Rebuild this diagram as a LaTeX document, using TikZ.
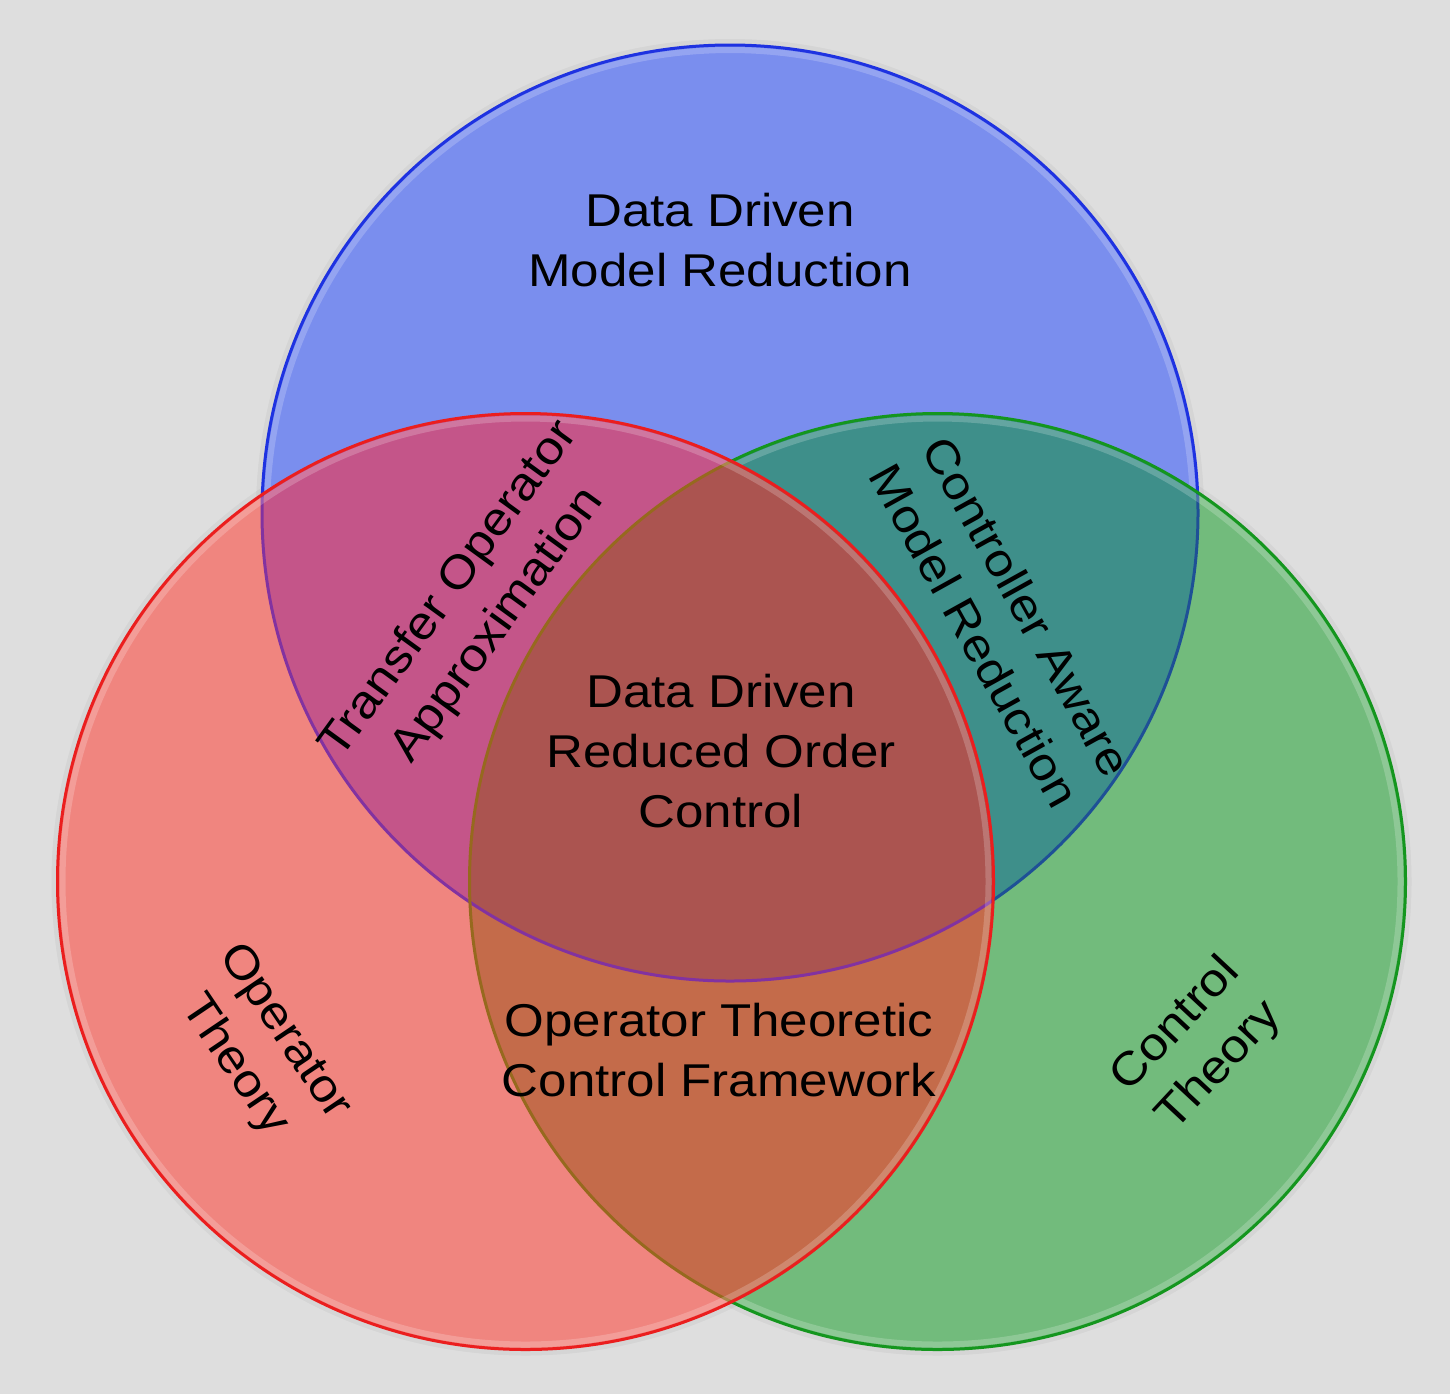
\documentclass[tikz,border=0pt]{standalone}
\usepackage{fontspec}
\setmainfont{Liberation Sans}
\usetikzlibrary{positioning}
\definecolor{bggray}{RGB}{222,222,222}
\definecolor{blueonly}{RGB}{122,142,238}
\definecolor{redonly}{RGB}{240,133,127}
\definecolor{greenonly}{RGB}{114,187,124}
\definecolor{magentamix}{RGB}{196,85,137}
\definecolor{tealmix}{RGB}{62,143,138}
\definecolor{orangemix}{RGB}{196,107,74}
\definecolor{centermix}{RGB}{171,84,80}
\definecolor{blueedge}{RGB}{30,50,225}
\definecolor{rededge}{RGB}{235,30,30}
\definecolor{greenedge}{RGB}{20,150,30}
\definecolor{blueundergreen}{RGB}{30,80,150}
\definecolor{blueunderred}{RGB}{130,50,160}
\definecolor{greenunderred}{RGB}{150,105,30}

\tikzset{
  setlabel/.style={font=\fontsize{23}{30}\selectfont, align=center, inner sep=0pt, xscale=1.11},
  rim/.style={line width=1.5pt},
  bevel/.style={draw=white, draw opacity=0.2, line width=3pt},
}

\begin{document}
\begin{tikzpicture}[x=0.5pt,y=-0.5pt]
  \fill[bggray] (0,0) rectangle (1450,1394);
  \useasboundingbox (0,0) rectangle (1450,1394);
  \coordinate (cB) at (730,513);
  \coordinate (cR) at (525.5,881.5);
  \coordinate (cG) at (937.5,881.5);

  % soft shadow on the gray
  \foreach \c in {cB,cR,cG}
    \draw[black, draw opacity=0.04, line width=3pt] (\c) circle[radius=471];

  % blue set
  \fill[blueonly] (cB) circle[radius=468];
  \draw[bevel] (cB) circle[radius=463];
  \draw[rim, blueedge] (cB) circle[radius=468];

  % green set
  \fill[greenonly] (cG) circle[radius=468];
  \begin{scope}
    \clip (cB) circle[radius=468];
    \fill[tealmix] (cG) circle[radius=468];
  \end{scope}
  \begin{scope}
    \clip (cG) circle[radius=468];
    \draw[rim, blueundergreen] (cB) circle[radius=468];
  \end{scope}
  \draw[bevel] (cG) circle[radius=463];
  \draw[rim, greenedge] (cG) circle[radius=468];

  % red set, on top
  \fill[redonly] (cR) circle[radius=468];
  \begin{scope}
    \clip (cR) circle[radius=468];
    \fill[magentamix] (cB) circle[radius=468];
    \fill[orangemix] (cG) circle[radius=468];
    \begin{scope}
      \clip (cB) circle[radius=468];
      \fill[centermix] (cG) circle[radius=468];
    \end{scope}
    \draw[rim, blueunderred] (cB) circle[radius=468];
    \draw[rim, greenunderred] (cG) circle[radius=468];
  \end{scope}
  \draw[bevel] (cR) circle[radius=463];
  \draw[rim, rededge] (cR) circle[radius=468];

  % labels
  \node[setlabel] (ddmr) at (720,240) {Data Driven\\Model Reduction};
  \node[setlabel] (ddroc) at (721,751) {Data Driven\\Reduced Order\\Control};
  \node[setlabel] (otcf) at (719,1050) {Operator Theoretic\\Control Framework};
  \node[rotate=54, setlabel] (toa) at (474,608) {Transfer Operator\\Approximation};
  \node[rotate=-61, setlabel] (camr) at (1001,621) {Controller Aware\\Model Reduction};
  \node[rotate=-56, setlabel] (ot) at (259,1049) {Operator\\Theory};
  \node[rotate=47, setlabel] (ct) at (1198,1046) {Control\\Theory};
\end{tikzpicture}
\end{document}
